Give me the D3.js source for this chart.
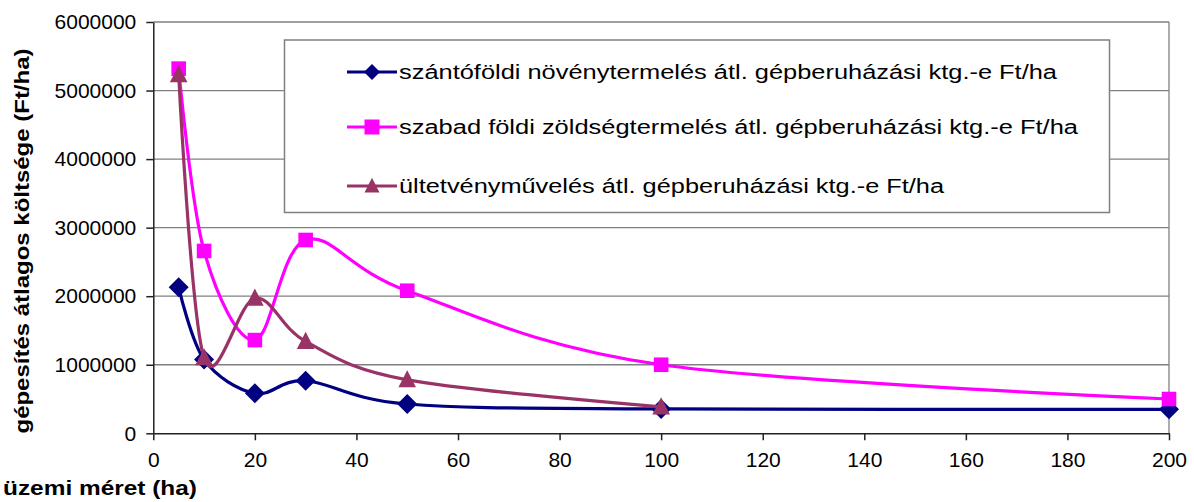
<!DOCTYPE html>
<html><head><meta charset="utf-8">
<script src="https://cdn.jsdelivr.net/npm/d3@7"></script>
<style>html,body{margin:0;padding:0;background:#fff}svg{display:block}</style>
</head><body>
<svg id="chart" width="1194" height="502"></svg>
<script>
const xValues = [5, 10, 20, 30, 50, 100, 200];
const szanto = [2130000, 1075000, 583000, 767000, 427000, 355000, 350000];
const szabad = [5320000, 2660000, 1360000, 2820000, 2080000, 1000000, 500000];
const ultetveny = [5230000, 1100000, 1970000, 1340000, 780000, 385000];
const xTicks = [0, 20, 40, 60, 80, 100, 120, 140, 160, 180, 200];
const yTicks = [0, 1000000, 2000000, 3000000, 4000000, 5000000, 6000000];
const seriesNames = [
  "szántóföldi növénytermelés átl. gépberuházási ktg.-e Ft/ha",
  "szabad földi zöldségtermelés átl. gépberuházási ktg.-e Ft/ha",
  "ültetvényművelés átl. gépberuházási ktg.-e Ft/ha"
];
const colors = ["#000080", "#FF00FF", "#993366"];
const xTitle = "üzemi méret (ha)";
const yTitle = "gépesítés átlagos költsége (Ft/ha)";

const svg = d3.select("#chart");
const font = "'Liberation Sans', Arial, sans-serif";
const L = 153.3, R = 1169, T = 22, B = 433.3;
const x = d3.scaleLinear().domain([0, 200]).range([L, R]);
const y = d3.scaleLinear().domain([0, 6000000]).range([B, T]);

// i: series index, s: [diamond half, square half, triangle half-width]
function marker(sel, i, s) {
  if (i === 0) {
    sel.attr("d", `M0,${-s[0]}L${s[0]},0L0,${s[0]}L${-s[0]},0Z`);
  } else if (i === 1) {
    const h = s[1];
    sel.attr("d", `M${-h},${-h}H${h}V${h}H${-h}Z`);
  } else {
    const w = s[2];
    sel.attr("d", `M0,${-w * 1.1}L${w},${w * 0.85}L${-w},${w * 0.85}Z`);
  }
}

svg.append("g").selectAll("line").data(yTicks.slice(1)).join("line")
  .attr("x1", L).attr("x2", R).attr("y1", d => y(d)).attr("y2", d => y(d))
  .attr("stroke", "#808080").attr("stroke-width", 1.3);
svg.append("line").attr("x1", R).attr("x2", R).attr("y1", T).attr("y2", B)
  .attr("stroke", "#808080").attr("stroke-width", 1.3);

const xAxis = svg.append("g").attr("transform", `translate(0,${B})`)
  .call(d3.axisBottom(x).tickValues(xTicks).tickSize(7).tickPadding(12).tickSizeOuter(0));
const yAxis = svg.append("g").attr("transform", `translate(${L},0)`)
  .call(d3.axisLeft(y).tickValues(yTicks).tickSize(7).tickPadding(10).tickSizeOuter(0).tickFormat(d3.format("d")));
[xAxis, yAxis].forEach(a => {
  a.selectAll("path,line").attr("stroke", "#222").attr("stroke-width", 1.5);
  a.selectAll("text").attr("font-family", font).attr("font-size", 21).attr("fill", "#000");
});

const all = [szanto, szabad, ultetveny];
const line = d3.line().x(d => x(d[0])).y(d => y(d[1])).curve(d3.curveCatmullRom.alpha(0));
all.forEach((vals, i) => {
  const pts = vals.map((v, j) => [xValues[j], v]);
  svg.append("path").datum(pts).attr("d", line)
    .attr("fill", "none").attr("stroke", colors[i]).attr("stroke-width", 3.2)
    .attr("stroke-linejoin", "round");
  svg.append("g").selectAll("path").data(pts).join("path")
    .attr("transform", d => `translate(${x(d[0])},${y(d[1])})`)
    .each(function () { marker(d3.select(this), i, [10, 7.3, 8.8]); })
    .attr("fill", colors[i]);
});

const lg = svg.append("g");
lg.append("rect").attr("x", 284.5).attr("y", 40).attr("width", 825).attr("height", 172.5)
  .attr("fill", "#fff").attr("stroke", "#808080").attr("stroke-width", 1.5);
const rowY = [72, 127, 186];
const textLen = [658, 679, 545];
seriesNames.forEach((name, i) => {
  lg.append("line").attr("x1", 347).attr("x2", 397).attr("y1", rowY[i]).attr("y2", rowY[i])
    .attr("stroke", colors[i]).attr("stroke-width", 3.2);
  lg.append("path").attr("transform", `translate(372,${rowY[i]})`)
    .each(function () { marker(d3.select(this), i, [8, 7.5, 7.5]); }).attr("fill", colors[i]);
  lg.append("text").attr("x", 399).attr("y", rowY[i]).attr("dy", "0.35em")
    .attr("font-family", font).attr("font-size", 20).attr("fill", "#000")
    .attr("textLength", textLen[i]).attr("lengthAdjust", "spacingAndGlyphs").text(name);
});

svg.append("text").attr("x", 3).attr("y", 495)
  .attr("font-family", font).attr("font-size", 20.5).attr("font-weight", "bold")
  .attr("textLength", 194).attr("lengthAdjust", "spacingAndGlyphs").text(xTitle);
svg.append("text").attr("transform", `translate(29,241) rotate(-90)`).attr("text-anchor", "middle")
  .attr("font-family", font).attr("font-size", 20.5).attr("font-weight", "bold")
  .attr("textLength", 385).attr("lengthAdjust", "spacingAndGlyphs").text(yTitle);
</script>
</body></html>
